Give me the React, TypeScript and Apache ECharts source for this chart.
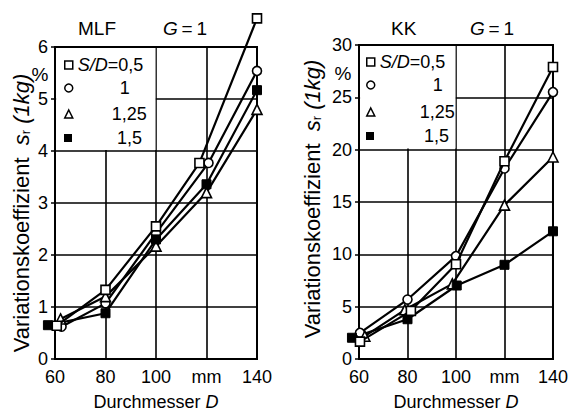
import React, { useEffect, useRef } from "react";
import * as echarts from "echarts";

const FONT = "'Liberation Sans', Arial, sans-serif";

const xTicks = [60, 80, 100, 120, 140];

// MLF (left)
const MLF_D_05 = [60.7, 80, 100, 117.2, 140];
const MLF_S_05 = [0.64, 1.33, 2.55, 3.77, 6.55];
const MLF_D_1 = [62.6, 80, 100, 120.8, 140];
const MLF_S_1 = [0.62, 1.07, 2.42, 3.77, 5.54];
const MLF_D_125 = [62.2, 80, 100, 120, 140];
const MLF_S_125 = [0.77, 1.2, 2.17, 3.2, 4.8];
const MLF_D_15 = [57.2, 80, 100, 120, 140];
const MLF_S_15 = [0.65, 0.88, 2.3, 3.36, 5.17];

// KK (right)
const KK_D_05 = [60.4, 81.4, 100, 120, 140];
const KK_S_05 = [1.66, 4.6, 9.05, 18.9, 27.9];
const KK_D_1 = [60.4, 80, 100, 120, 140];
const KK_S_1 = [2.5, 5.68, 9.83, 18.2, 25.5];
const KK_D_125 = [62.4, 78.9, 98.5, 120, 140];
const KK_S_125 = [2.18, 4.7, 7.18, 14.7, 19.3];
const KK_D_15 = [57.1, 80, 100.3, 120, 140];
const KK_S_15 = [2.03, 3.8, 7.02, 9.0, 12.2];

const legendLabels = ["S/D=0,5", "1", "1,25", "1,5"];

const zip = (xs: number[], ys: number[]) => xs.map((x, i) => [x, ys[i]]);

function makeSeries(name: string, idx: number, xs: number[], ys: number[], symbol: string, filled: boolean, extra: any = {}) {
  return {
    type: "line",
    name,
    xAxisIndex: idx,
    yAxisIndex: idx,
    data: zip(xs, ys),
    symbol,
    symbolSize: symbol === "triangle" ? 10 : 9,
    showSymbol: true,
    clip: false,
    lineStyle: { color: "#000", width: 2.2 },
    itemStyle: filled
      ? { color: "#000", borderColor: "#000", borderWidth: 1 }
      : { color: "#fff", borderColor: "#000", borderWidth: 1.6 },
    emphasis: { disabled: true },
    z: 3,
    ...extra,
  };
}

const richBase = { fontSize: 18, fontFamily: FONT, color: "#000", lineHeight: 20 };

function legendItem(name: string, icon: string, filled: boolean, left: number, cy: number, label: string) {
  return {
    data: [name],
    left,
    top: cy - 10,
    padding: 0,
    itemWidth: 8,
    itemHeight: 8,
    icon,
    selectedMode: false,
    itemStyle: filled
      ? { color: "#000", borderWidth: 0 }
      : { color: "#fff", borderColor: "#000", borderWidth: 1.5 },
    textStyle: {
      ...richBase,
      rich: {
        i: { ...richBase, fontStyle: "italic" },
        n: { ...richBase },
        r52: { ...richBase, width: 52, align: "right" },
        r69: { ...richBase, width: 69, align: "right" },
        r65: { ...richBase, width: 65, align: "right" },
        r63: { ...richBase, width: 63, align: "right" },
        r75: { ...richBase, width: 75, align: "right" },
        r70: { ...richBase, width: 70, align: "right" },
      },
    },
    formatter: () => label,
  };
}

function xAxis(idx: number) {
  return {
    type: "value",
    gridIndex: idx,
    min: xTicks[0],
    max: xTicks[xTicks.length - 1],
    interval: 20,
    axisLine: { show: true, lineStyle: { color: "#000", width: 2 } },
    axisTick: { show: false },
    splitLine: { show: true, lineStyle: { color: "#000", width: 1.6 } },
    axisLabel: {
      color: "#000",
      fontSize: 18,
      fontFamily: FONT,
      margin: 9,
      formatter: (v: number) => (v === 120 ? "mm" : String(v)),
    },
    name: "Durchmesser {i|D}",
    nameLocation: "middle",
    nameGap: 34,
    nameTextStyle: {
      color: "#000",
      fontSize: 18,
      fontFamily: FONT,
      rich: { i: { fontStyle: "italic", fontSize: 18, fontFamily: FONT, color: "#000" } },
    },
  };
}

function yAxis(idx: number, max: number, interval: number, nameGap: number, pad: number[]) {
  return {
    type: "value",
    gridIndex: idx,
    min: 0,
    max,
    interval,
    axisLine: { show: true, lineStyle: { color: "#000", width: 2 } },
    axisTick: { show: true, length: 4, lineStyle: { color: "#000", width: 1.5 } },
    splitLine: { show: true, lineStyle: { color: "#000", width: 1.6 } },
    axisLabel: { color: "#000", fontSize: 18, fontFamily: FONT, margin: 7 },
    name: "Variationskoeffizient  {s|s}{sub|r}{p| (1kg)}",
    nameLocation: "middle",
    nameRotate: 90,
    nameGap,
    nameTextStyle: {
      color: "#000",
      fontSize: 22,
      fontFamily: FONT,
      padding: pad,
      rich: {
        s: { fontStyle: "italic", fontSize: 22, fontFamily: FONT, color: "#000" },
        sub: { fontSize: 13, fontFamily: FONT, color: "#000", verticalAlign: "bottom", padding: [9, 0, 0, 0] },
        p: { fontStyle: "italic", fontSize: 22, fontFamily: FONT, color: "#000" },
      },
    },
  };
}

const titleStyle = {
  fontSize: 19,
  fontWeight: "normal",
  fontFamily: FONT,
  color: "#000",
  rich: { i: { fontStyle: "italic", fontSize: 19, fontFamily: FONT, color: "#000" } },
};

export default function App() {
  const ref = useRef<HTMLDivElement>(null);
  useEffect(() => {
    if (!ref.current) return;
    const chart = echarts.init(ref.current, undefined, { renderer: "svg" });
    const whiteBox = (x0: number, y0: number, x1: number, y1: number) => ({
      silent: true,
      itemStyle: { color: "#fff", borderWidth: 0 },
      data: [[{ coord: [x0, y0] }, { coord: [x1, y1] }]],
    });
    const option: any = {
      animation: false,
      backgroundColor: "#fff",
      title: [
        { text: "MLF", left: 78, top: 19, padding: 0, textStyle: titleStyle },
        { text: "{i|G}\u2009=\u20091", left: 163, top: 19, padding: 0, textStyle: titleStyle },
        { text: "KK", left: 391, top: 19, padding: 0, textStyle: titleStyle },
        { text: "{i|G}\u2009=\u20091", left: 470, top: 19, padding: 0, textStyle: titleStyle },
      ],
      grid: [
        { left: 55, top: 47, width: 202, height: 319, show: true, borderColor: "#000", borderWidth: 2, backgroundColor: "transparent" },
        { left: 359, top: 45, width: 201, height: 320, show: true, borderColor: "#000", borderWidth: 2, backgroundColor: "transparent" },
      ],
      xAxis: [xAxis(0), xAxis(1)],
      yAxis: [yAxis(0, 6, 1, 23, [0, 20, 0, 0]), yAxis(1, 30, 5, 36, [0, 0, 0, 6])],
      legend: [
        legendItem("MLF 0,5", "rect", false, 64, 65, "{i|S/D}{n|=0,5}"),
        legendItem("MLF 1", "circle", false, 64, 88, `{r52|${legendLabels[1]}}`),
        legendItem("MLF 1,25", "triangle", false, 64, 114, `{r69|${legendLabels[2]}}`),
        legendItem("MLF 1,5", "rect", true, 64, 138, `{r65|${legendLabels[3]}}`),
        legendItem("KK 0,5", "rect", false, 366, 62, "{i|S/D}{n|=0,5}"),
        legendItem("KK 1", "circle", false, 366, 85, `{r63|${legendLabels[1]}}`),
        legendItem("KK 1,25", "triangle", false, 366, 112, `{r75|${legendLabels[2]}}`),
        legendItem("KK 1,5", "rect", true, 366, 136, `{r70|${legendLabels[3]}}`),
      ],
      graphic: [
        { type: "text", x: 40, y: 74, style: { text: "%", fontSize: 19, fontFamily: FONT, fill: "#000", align: "center", verticalAlign: "middle" } },
        { type: "text", x: 343, y: 73, style: { text: "%", fontSize: 19, fontFamily: FONT, fill: "#000", align: "center", verticalAlign: "middle" } },
      ],
      series: [
        makeSeries("MLF 0,5", 0, MLF_D_05, MLF_S_05, "rect", false, { markArea: whiteBox(60.45, 4.02, 99.8, 5.98), z: 4 }),
        makeSeries("MLF 1", 0, MLF_D_1, MLF_S_1, "circle", false),
        makeSeries("MLF 1,25", 0, MLF_D_125, MLF_S_125, "triangle", false),
        makeSeries("MLF 1,5", 0, MLF_D_15, MLF_S_15, "rect", true),
        makeSeries("KK 0,5", 1, KK_D_05, KK_S_05, "rect", false, { markArea: whiteBox(60.45, 20.1, 99.8, 29.9), z: 4 }),
        makeSeries("KK 1", 1, KK_D_1, KK_S_1, "circle", false),
        makeSeries("KK 1,25", 1, KK_D_125, KK_S_125, "triangle", false),
        makeSeries("KK 1,5", 1, KK_D_15, KK_S_15, "rect", true),
      ],
    };
    chart.setOption(option);
    return () => chart.dispose();
  }, []);
  return <div ref={ref} style={{ position: "fixed", left: 0, top: 0, width: 571, height: 416 }} />;
}
